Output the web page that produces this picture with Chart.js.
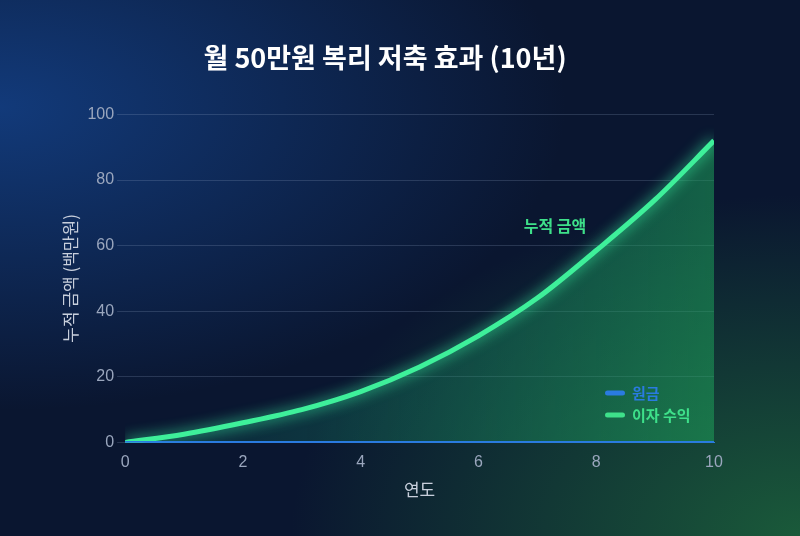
<!DOCTYPE html>
<html><head><meta charset="utf-8">
<script src="https://cdn.jsdelivr.net/npm/chart.js@4"></script>
<style>
html,body{margin:0;padding:0;width:800px;height:536px;overflow:hidden;}
body{background:radial-gradient(ellipse at 100% 100%, #1a5a3a 0%, rgba(10,30,50,0) 45%),radial-gradient(ellipse at 0% 20%, #123a7a 0%, rgba(8,20,45,0) 50%),#0a1630;font-family:"Noto Sans CJK KR","Noto Sans",sans-serif;}
#wrap{position:absolute;left:0;top:0;width:800px;height:536px;}
</style></head><body>
<div id="wrap"><canvas id="c" width="800" height="536"></canvas></div>
<script>
const years = [0,1,2,3,4,5,6,7,8,9,10];
const principal = [0,0,0,0,0,0,0,0,0,0,0];
const interest = [0,2.5,6,10,15.5,23,32.5,44,58.5,74,92];
const title = '월 50만원 복리 저축 효과 (10년)';
const yTitle = '누적 금액 (백만원)';
const xTitle = '연도';
const annotationText = '누적 금액';

const glow = {
  id:'glow',
  beforeDatasetDraw(chart,args){ if(args.index===1){const c=chart.ctx;c.save();c.shadowColor='rgba(60,255,170,0.9)';c.shadowBlur=14;} },
  afterDatasetDraw(chart,args){ if(args.index===1){chart.ctx.restore();} },
  afterDraw(chart){
    const c=chart.ctx, xs=chart.scales.x, ys=chart.scales.y;
    c.save();
    c.fillStyle='#3ee08a';c.font='bold 16px "Noto Sans CJK KR"';c.textAlign='center';c.textBaseline='middle';
    c.fillText(annotationText,xs.getPixelForValue(7.3),ys.getPixelForValue(66));
    const ds=chart.data.datasets;
    const items=[[ds[0].label,'#2a7be0',393],[ds[1].label,'#3ee08a',415]];
    c.textAlign='left';c.font='bold 15px "Noto Sans CJK KR"';
    for(const [t,col,y] of items){
      c.fillStyle=col;c.beginPath();c.roundRect(605,y-2.5,20,5,2.5);c.fill();
      c.fillText(t,632,y);
    }
    c.restore();
  }
};
const ctx=document.getElementById('c').getContext('2d');
new Chart(ctx,{
  type:'line',
  data:{datasets:[
    {label:'원금',data:years.map((x,i)=>({x,y:principal[i]})),borderColor:'#2a7be0',backgroundColor:'#2a7be0',borderWidth:3,pointRadius:0,tension:0.4},
    {label:'이자 수익',data:years.map((x,i)=>({x,y:interest[i]})),borderColor:'#3ef09a',backgroundColor:(c)=>{const a=c.chart.chartArea;if(!a)return 'rgba(40,200,120,0.3)';const g=c.chart.ctx.createLinearGradient(a.left,0,a.right,0);g.addColorStop(0,'rgba(20,120,110,0.15)');g.addColorStop(1,'rgba(30,160,90,0.55)');return g;},fill:'origin',borderWidth:5,pointRadius:0,tension:0.4,cubicInterpolationMode:'monotone'}
  ]},
  options:{responsive:false,animation:false,
    layout:{padding:{left:56,right:86,top:14,bottom:32}},
    plugins:{
      title:{display:true,text:title,color:'#ffffff',font:{size:27,weight:'bold',family:'"Noto Sans CJK KR"'},padding:{top:28,bottom:40}},
      legend:{display:false},
      tooltip:{enabled:false}
    },
    scales:{
      x:{type:'linear',min:0,max:10,ticks:{stepSize:2,color:'#9aa6bd',font:{size:16}},grid:{display:false},border:{color:'#2a7be0'},title:{display:true,text:xTitle,color:'#c8cfdc',font:{size:17,family:'"Noto Sans CJK KR"'}}},
      y:{min:0,max:100,ticks:{stepSize:20,color:'#9aa6bd',font:{size:16}},grid:{color:'rgba(150,170,200,0.22)'},border:{display:false},title:{display:true,text:yTitle,color:'#c8cfdc',font:{size:17,family:'"Noto Sans CJK KR"'}}}
    }
  },
  plugins:[glow]
});
</script></body></html>
